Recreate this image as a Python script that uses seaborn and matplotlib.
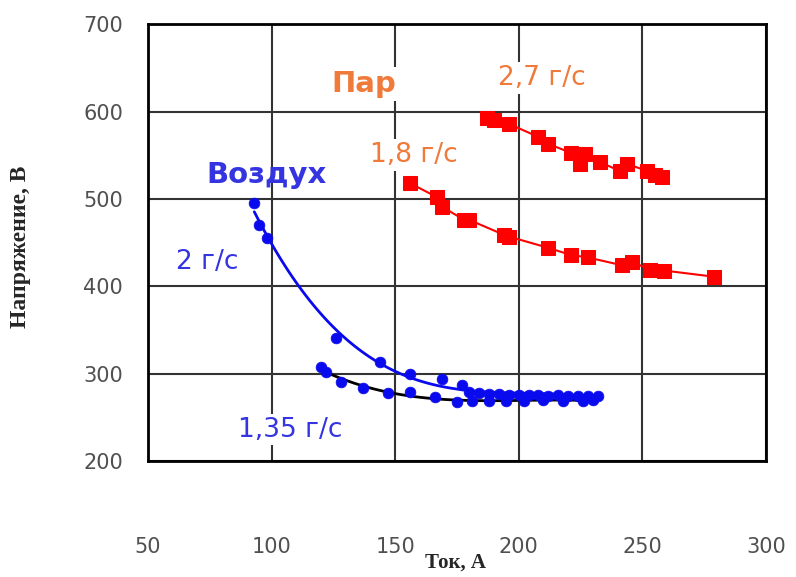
import numpy as np
import pandas as pd
import matplotlib
matplotlib.use("Agg")
import matplotlib.pyplot as plt
import seaborn as sns

# Steam, 2.7 g/s
steam27_x = [187, 190, 196, 208, 212, 221, 225, 227, 233, 241, 244, 252, 255, 258]
steam27_y = [593, 590, 586, 571, 563, 553, 540, 552, 542, 532, 540, 532, 527, 525]

# Steam, 1.8 g/s
steam18_x = [156, 167, 169, 178, 180, 194, 196, 212, 221, 228, 242, 246, 253, 259, 279]
steam18_y = [518, 502, 491, 476, 476, 459, 457, 444, 436, 433, 424, 428, 419, 418, 411]

# Air, 2 g/s
air2_x = [93, 95, 98, 126, 144, 156, 169, 177, 180, 184, 188, 192, 196, 200, 204,
          208, 212, 216, 220, 224, 228, 232]
air2_y = [495, 470, 455, 341, 313, 300, 294, 287, 279, 278, 277, 277, 276, 276, 276,
          276, 275, 276, 275, 275, 275, 275]

# Air, 1.35 g/s
air135_x = [120, 122, 128, 137, 147, 156, 166, 175, 181, 188, 195, 202, 210, 218, 226, 230]
air135_y = [308, 302, 290, 284, 278, 279, 273, 268, 269, 269, 269, 269, 270, 269, 269, 270]

sns.set_style("white")
plt.rcParams['font.family'] = ['DejaVu Sans']

fig = plt.figure(figsize=(7.96, 5.77), dpi=100)
ax = fig.add_axes([0.186, 0.201, 0.776, 0.757])

red = '#ff0000'
blue = '#0a0aee'
orange = '#f07a3a'
blue_txt = '#3434e0'

# smooth trend lines for air
sns.regplot(x=air2_x, y=air2_y, order=3, ci=None, scatter=False, ax=ax,
            line_kws=dict(color=blue, lw=2, zorder=3))
sns.regplot(x=air135_x, y=air135_y, order=3, ci=None, scatter=False, ax=ax,
            line_kws=dict(color='black', lw=2, zorder=3))
sns.scatterplot(x=air135_x, y=air135_y, ax=ax, color=blue, s=60, edgecolor=blue,
                linewidth=0.5, zorder=4)
sns.scatterplot(x=air2_x, y=air2_y, ax=ax, color=blue, s=60, edgecolor=blue,
                linewidth=0.5, zorder=4)

# steam: connected squares
sns.lineplot(x=steam18_x, y=steam18_y, ax=ax, color=red, lw=1.5, marker='s',
             markersize=9.5, markeredgecolor=red, sort=False, zorder=4)
sns.lineplot(x=steam27_x, y=steam27_y, ax=ax, color=red, lw=1.5, marker='s',
             markersize=9.5, markeredgecolor=red, sort=False, zorder=4)

ax.set_xlim(50, 300)
ax.set_ylim(200, 700)
ax.set_xticks([50, 100, 150, 200, 250, 300])
ax.set_yticks([200, 300, 400, 500, 600, 700])
ax.grid(True, color='#333333', lw=1.5)
ax.set_axisbelow(True)
for s in ax.spines.values():
    s.set_color('black')
    s.set_linewidth(2)
ax.tick_params(axis='x', length=0, pad=55, labelsize=15, labelcolor='#505050')
ax.tick_params(axis='y', length=0, pad=18, labelsize=15, labelcolor='#505050')

ax.set_xlabel('Ток, А', family='Liberation Serif', fontweight='bold', fontsize=15)
ax.set_ylabel('Напряжение, В', family='Liberation Serif', fontweight='bold',
              fontsize=17)
ax.xaxis.set_label_coords(0.497, -0.21)
ax.yaxis.set_label_coords(-0.19, 0.49)

box = dict(facecolor='white', edgecolor='none', pad=2)
ax.text(137.5, 632, 'Пар', color=orange, fontsize=21, fontweight='bold',
        ha='center', va='center', bbox=box, zorder=2)
ax.text(209.5, 638, '2,7 г/с', color=orange, fontsize=19, ha='center', va='center',
        bbox=box, zorder=2)
ax.text(157.5, 550, '1,8 г/с', color=orange, fontsize=19, ha='center', va='center',
        bbox=box, zorder=2)
ax.text(98, 527, 'Воздух', color=blue_txt, fontsize=21, fontweight='bold',
        ha='center', va='center', zorder=2)
ax.text(74, 428, '2 г/с', color=blue_txt, fontsize=19, ha='center', va='center',
        zorder=2)
ax.text(107.5, 236, '1,35 г/с', color=blue_txt, fontsize=19, ha='center', va='center',
        bbox=box, zorder=2)

fig.savefig('out.png', dpi=100)
